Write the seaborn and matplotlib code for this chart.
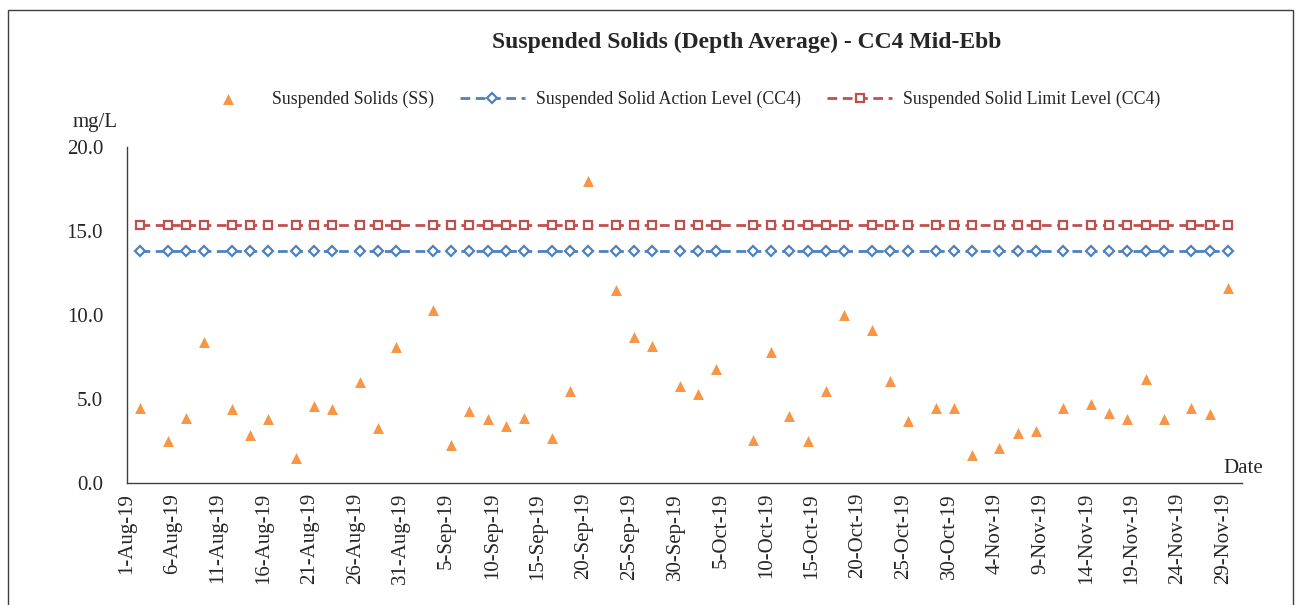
import pandas as pd
import seaborn as sns
import matplotlib.pyplot as plt
import matplotlib.dates as mdates
from matplotlib.ticker import FuncFormatter
from matplotlib.patches import Rectangle

# sampling dates and depth-averaged SS (mg/L)
sample_dates = [
    "2019-08-02", "2019-08-05", "2019-08-07", "2019-08-09", "2019-08-12", "2019-08-14",
    "2019-08-16", "2019-08-19", "2019-08-21", "2019-08-23", "2019-08-26", "2019-08-28",
    "2019-08-30", "2019-09-03", "2019-09-05", "2019-09-07", "2019-09-09", "2019-09-11",
    "2019-09-13", "2019-09-16", "2019-09-18", "2019-09-20", "2019-09-23", "2019-09-25",
    "2019-09-27", "2019-09-30", "2019-10-02", "2019-10-04", "2019-10-08", "2019-10-10",
    "2019-10-12", "2019-10-14", "2019-10-16", "2019-10-18", "2019-10-21", "2019-10-23",
    "2019-10-25", "2019-10-28", "2019-10-30", "2019-11-01", "2019-11-04", "2019-11-06",
    "2019-11-08", "2019-11-11", "2019-11-14", "2019-11-16", "2019-11-18", "2019-11-20",
    "2019-11-22", "2019-11-25", "2019-11-27", "2019-11-29",
]
ss_values = [
    4.5, 2.5, 3.9, 8.4, 4.4, 2.9,
    3.8, 1.5, 4.6, 4.4, 6.0, 3.3,
    8.1, 10.3, 2.3, 4.3, 3.8, 3.4,
    3.9, 2.7, 5.5, 18.0, 11.5, 8.7,
    8.2, 5.8, 5.3, 6.8, 2.6, 7.8,
    4.0, 2.5, 5.5, 10.0, 9.1, 6.1,
    3.7, 4.5, 4.5, 1.7, 2.1, 3.0,
    3.1, 4.5, 4.7, 4.2, 3.8, 6.2,
    3.8, 4.5, 4.1, 11.6,
]
action_level = 13.8
limit_level = 15.4
y_ticks = [0, 5, 10, 15, 20]
tick_dates = pd.date_range("2019-08-01", "2019-11-29", freq="5D")

ORANGE = "#F79646"
BLUE = "#4F81BD"
RED = "#C0504D"

df = pd.DataFrame({
    # Excel date axis puts each point in the middle of its day
    "date": pd.to_datetime(sample_dates) + pd.Timedelta(hours=12),
    "ss": ss_values,
})
df["action"] = action_level
df["limit"] = limit_level

sns.set_style("white")
plt.rcParams["font.family"] = ["Liberation Serif", "DejaVu Serif"]

fig = plt.figure(figsize=(12.98, 6.05), dpi=100)
ax = fig.add_axes([0.0976, 0.2012, 0.8590, 0.5553])

sns.scatterplot(data=df, x="date", y="ss", marker="^", s=62, color=ORANGE,
                edgecolor=ORANGE, linewidth=0, label="Suspended Solids (SS)", ax=ax, zorder=4)
sns.lineplot(data=df, x="date", y="action", color=BLUE, linewidth=2.0, linestyle=(0, (3.5, 2)),
             marker="D", markersize=4.8, markerfacecolor="white", markeredgecolor=BLUE,
             markeredgewidth=1.6, label="Suspended Solid Action Level (CC4)", ax=ax)
sns.lineplot(data=df, x="date", y="limit", color=RED, linewidth=2.0, linestyle=(0, (3.5, 2)),
             marker="s", markersize=5.6, markerfacecolor="white", markeredgecolor=RED,
             markeredgewidth=1.6, label="Suspended Solid Limit Level (CC4)", ax=ax)

ax.set_xlim(pd.Timestamp("2019-08-01"), pd.Timestamp("2019-12-01"))
ax.set_ylim(0, 20)
ax.set_xticks(tick_dates)
ax.xaxis.set_major_formatter(FuncFormatter(
    lambda v, p: "{}-{}".format(mdates.num2date(v).day, mdates.num2date(v).strftime("%b-%y"))))
ax.set_yticks(y_ticks)
ax.yaxis.set_major_formatter(FuncFormatter(lambda v, p: f"{v:.1f}"))
ax.tick_params(axis="x", direction="in", length=5, width=1, rotation=90, labelsize=15, pad=7)
ax.tick_params(axis="y", direction="in", length=5, width=1, labelsize=15, pad=17)
ax.set_xlabel("")
ax.set_ylabel("")

for side in ["top", "right"]:
    ax.spines[side].set_visible(False)
for side in ["left", "bottom"]:
    ax.spines[side].set_color("#404040")
    ax.spines[side].set_linewidth(1)

fig.text(0.056, 0.797, "mg/L", fontsize=15, ha="left", va="center")
fig.text(0.9425, 0.226, "Date", fontsize=15, ha="left", va="center")
fig.text(0.5755, 0.930, "Suspended Solids (Depth Average) - CC4 Mid-Ebb",
         fontsize=17, fontweight="bold", ha="center", va="center")

ax.legend(loc="center", bbox_to_anchor=(0.5222, 0.836), bbox_transform=fig.transFigure,
          ncol=3, frameon=False, fontsize=12.8, handlelength=3.7, columnspacing=1.45,
          handletextpad=0.6)

fig.patches.append(Rectangle((0.0062, -0.1), 0.9897, 1.0835, transform=fig.transFigure,
                             fill=False, edgecolor="#404040", linewidth=1))

fig.savefig("out.png", dpi=100)
